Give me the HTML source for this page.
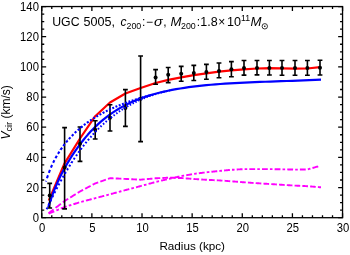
<!DOCTYPE html><html><head><meta charset="utf-8"><style>html,body{margin:0;padding:0;background:#fff;overflow:hidden}body{width:350px;height:255px;position:relative}</style></head><body><svg width="350" height="255" viewBox="0 0 350 255" style="position:absolute;left:0;top:0;will-change:transform">
<rect width="350" height="255" fill="#fff"/>
<g fill="none" stroke-linejoin="round">
<path d="M48.50,213.30 L48.70,213.15 L49.29,212.70 L49.87,212.25 L50.46,211.80 L51.05,211.35 L51.64,210.90 L52.23,210.45 L52.82,210.00 L53.41,209.55 L53.60,209.41 M55.59,207.89 L55.76,207.75 L56.35,207.30 L56.94,206.85 L57.53,206.40 L58.12,205.95 L58.71,205.50 L59.30,205.05 L59.89,204.60 L60.48,204.15 L60.87,203.85 M62.86,202.33 L63.03,202.20 L63.62,201.75 L64.21,201.30 L64.81,200.87 L65.44,200.48 L66.08,200.09 L66.71,199.70 L67.34,199.31 L67.98,198.92 L68.21,198.77 M70.25,197.51 L70.30,197.49 L70.93,197.10 L71.56,196.71 L72.19,196.32 L72.83,195.92 L73.46,195.53 L74.09,195.14 L74.73,194.75 L75.36,194.36 L75.65,194.18 M77.68,192.93 L77.89,192.80 L78.52,192.41 L79.16,192.02 L79.79,191.63 L80.44,191.27 L81.10,190.91 L81.76,190.56 L82.42,190.21 L83.08,189.86 L83.12,189.84 M85.18,188.74 L85.29,188.68 L85.95,188.33 L86.61,187.98 L87.27,187.63 L87.93,187.27 L88.59,186.92 L89.25,186.57 L89.91,186.22 L90.57,185.87 L90.64,185.83 M92.69,184.74 L92.78,184.69 L93.44,184.34 L94.10,183.99 L94.76,183.63 L95.43,183.32 L96.14,183.07 L96.84,182.82 L97.55,182.57 L98.21,182.34 M100.31,181.61 L100.37,181.58 L101.07,181.34 L101.78,181.09 L102.48,180.84 L103.19,180.59 L103.89,180.35 L104.60,180.10 L105.30,179.85 L105.87,179.65 M107.97,178.91 L108.12,178.86 L108.83,178.61 L109.53,178.37 L110.25,178.21 L110.99,178.25 L111.74,178.28 L112.48,178.31 L113.23,178.35 L113.59,178.36 M115.72,178.46 L115.96,178.47 L116.71,178.50 L117.45,178.54 L118.20,178.57 L118.94,178.61 L119.69,178.64 L120.43,178.67 L121.18,178.71 L121.37,178.72 M123.50,178.81 L123.66,178.82 L124.41,178.85 L125.15,178.89 L125.90,178.93 L126.65,178.97 L127.39,179.00 L128.14,179.04 L128.89,179.08 L129.14,179.10 M131.27,179.21 L131.38,179.21 L132.13,179.25 L132.88,179.29 L133.62,179.33 L134.37,179.37 L135.12,179.41 L135.87,179.45 L136.61,179.49 L136.92,179.51 M139.05,179.62 L139.10,179.62 L139.85,179.66 L140.60,179.70 L141.34,179.63 L142.08,179.56 L142.81,179.49 L143.55,179.42 L144.29,179.36 L144.70,179.32 M146.82,179.12 L146.99,179.10 L147.73,179.03 L148.47,178.97 L149.21,178.90 L149.94,178.83 L150.68,178.76 L151.42,178.69 L152.16,178.62 L152.47,178.59 M154.60,178.39 L154.62,178.39 L155.35,178.32 L156.09,178.28 L156.84,178.24 L157.58,178.21 L158.32,178.17 L159.06,178.14 L159.80,178.10 L160.24,178.08 M162.37,177.98 L162.52,177.97 L163.26,177.94 L164.00,177.90 L164.74,177.86 L165.48,177.83 L166.22,177.79 L166.96,177.76 L167.71,177.72 L168.02,177.71 M170.15,177.75 L170.16,177.75 L170.90,177.76 L171.63,177.78 L172.37,177.80 L173.11,177.81 L173.84,177.83 L174.58,177.85 L175.31,177.86 L175.80,177.88 M177.93,177.92 L178.01,177.93 L178.75,177.94 L179.48,177.96 L180.22,177.98 L180.95,177.99 L181.69,178.04 L182.44,178.10 L183.18,178.16 L183.58,178.19 M185.71,178.36 L185.89,178.37 L186.64,178.43 L187.38,178.49 L188.12,178.55 L188.86,178.61 L189.60,178.67 L190.34,178.73 L191.08,178.78 L191.35,178.81 M193.48,178.97 L193.55,178.98 L194.29,179.03 L195.04,179.08 L195.78,179.13 L196.52,179.17 L197.26,179.22 L198.00,179.27 L198.74,179.31 L199.13,179.34 M201.26,179.47 L201.46,179.49 L202.20,179.53 L202.94,179.58 L203.68,179.63 L204.42,179.67 L205.16,179.72 L205.91,179.77 L206.65,179.81 L206.90,179.82 M209.03,179.93 L209.12,179.93 L209.86,179.96 L210.60,180.00 L211.34,180.04 L212.08,180.07 L212.82,180.11 L213.56,180.14 L214.31,180.18 L214.68,180.19 M216.81,180.30 L217.02,180.31 L217.76,180.34 L218.51,180.38 L219.25,180.42 L219.99,180.47 L220.74,180.53 L221.48,180.58 L222.22,180.63 L222.46,180.65 M224.59,180.81 L224.70,180.81 L225.45,180.87 L226.19,180.92 L226.94,180.98 L227.68,181.03 L228.42,181.08 L229.17,181.14 L229.91,181.19 L230.23,181.22 M232.36,181.38 L232.39,181.38 L233.13,181.44 L233.87,181.50 L234.61,181.55 L235.35,181.61 L236.09,181.67 L236.84,181.73 L237.58,181.79 L238.01,181.82 M240.13,181.99 L240.29,182.01 L241.04,182.06 L241.78,182.12 L242.52,182.18 L243.26,182.24 L244.00,182.30 L244.74,182.35 L245.47,182.40 L245.78,182.42 M247.91,182.57 L247.92,182.57 L248.66,182.62 L249.40,182.67 L250.13,182.72 L250.87,182.78 L251.60,182.83 L252.34,182.88 L253.08,182.93 L253.56,182.96 M255.68,183.11 L255.77,183.12 L256.51,183.17 L257.25,183.22 L257.99,183.26 L258.74,183.31 L259.48,183.36 L260.22,183.41 L260.97,183.46 L261.33,183.48 M263.46,183.62 L263.70,183.63 L264.44,183.68 L265.18,183.73 L265.93,183.78 L266.67,183.82 L267.42,183.87 L268.16,183.92 L268.90,183.97 L269.11,183.98 M271.24,184.12 L271.38,184.13 L272.12,184.17 L272.86,184.22 L273.60,184.27 L274.34,184.31 L275.08,184.36 L275.82,184.41 L276.56,184.45 L276.88,184.48 M279.01,184.61 L279.04,184.61 L279.78,184.66 L280.52,184.71 L281.26,184.75 L282.00,184.80 L282.74,184.85 L283.47,184.89 L284.21,184.94 L284.66,184.96 M286.79,185.09 L286.91,185.10 L287.64,185.15 L288.38,185.19 L289.11,185.24 L289.85,185.28 L290.58,185.33 L291.32,185.37 L292.06,185.42 L292.44,185.44 M294.57,185.57 L294.75,185.58 L295.50,185.62 L296.24,185.66 L296.98,185.70 L297.73,185.73 L298.47,185.77 L299.22,185.80 L299.96,185.84 L300.21,185.85 M302.34,185.96 L302.44,185.96 L303.18,186.00 L303.93,186.03 L304.67,186.07 L305.42,186.10 L306.16,186.14 L306.90,186.18 L307.65,186.22 L307.99,186.25 M310.12,186.42 L310.12,186.42 L310.86,186.48 L311.60,186.54 L312.35,186.60 L313.09,186.66 L313.83,186.72 L314.57,186.78 L315.31,186.84 L315.76,186.88 M317.89,187.05 L318.03,187.06 L318.77,187.12 L319.52,187.18 L320.26,187.24 L321.00,187.30" stroke="#f0f" stroke-width="1.9"/>
<path d="M48.70,213.60 L48.93,213.50 L49.62,213.22 L50.31,212.93 L51.00,212.64 L51.70,212.36 L52.39,212.07 L53.08,211.78 L53.77,211.50 L54.29,211.28 M56.34,210.43 L56.53,210.35 L57.23,210.06 L57.92,209.77 L58.61,209.49 L58.89,209.37 M60.94,208.52 L61.14,208.43 L61.83,208.15 L62.53,207.86 L63.22,207.57 L63.91,207.29 L64.60,207.00 L65.31,206.78 L66.02,206.56 L66.68,206.35 M68.76,205.70 L68.86,205.67 L69.58,205.45 L70.29,205.23 L71.00,205.01 L71.32,204.90 M73.40,204.26 L73.60,204.19 L74.31,203.97 L75.02,203.75 L75.74,203.53 L76.45,203.31 L77.16,203.09 L77.87,202.86 L78.58,202.64 L79.17,202.46 M81.25,201.87 L81.45,201.82 L82.17,201.63 L82.90,201.44 L83.62,201.25 L83.83,201.19 M85.91,200.65 L86.03,200.61 L86.76,200.42 L87.48,200.23 L88.20,200.04 L88.93,199.85 L89.65,199.66 L90.37,199.47 L91.10,199.28 L91.70,199.12 M93.78,198.57 L93.99,198.52 L94.72,198.33 L95.44,198.14 L96.15,197.95 L96.36,197.89 M98.44,197.35 L98.54,197.32 L99.26,197.13 L99.97,196.94 L100.69,196.75 L101.41,196.56 L102.12,196.38 L102.84,196.19 L103.55,196.00 L104.23,195.82 M106.31,195.27 L106.42,195.24 L107.14,195.05 L107.85,194.87 L108.57,194.68 L108.89,194.59 M110.97,194.04 L111.20,193.97 L111.92,193.78 L112.65,193.58 L113.37,193.38 L114.09,193.18 L114.81,192.99 L115.53,192.79 L116.26,192.59 L116.76,192.46 M118.84,191.89 L118.90,191.87 L119.62,191.68 L120.35,191.48 L121.07,191.28 L121.41,191.19 M123.50,190.62 L123.72,190.56 L124.44,190.36 L125.16,190.17 L125.88,189.97 L126.61,189.78 L127.33,189.59 L128.05,189.40 L128.78,189.21 L129.28,189.08 M131.37,188.53 L131.43,188.51 L132.16,188.32 L132.88,188.13 L133.60,187.94 L133.94,187.85 M136.03,187.30 L136.26,187.24 L136.98,187.05 L137.70,186.86 L138.43,186.67 L139.15,186.48 L139.88,186.29 L140.60,186.10 L141.31,185.90 L141.82,185.77 M143.90,185.20 L143.93,185.19 L144.65,184.99 L145.36,184.80 L146.08,184.60 L146.47,184.49 M148.55,183.93 L148.70,183.89 L149.41,183.69 L150.12,183.50 L150.84,183.30 L151.55,183.11 L152.27,182.91 L152.98,182.72 L153.70,182.52 L154.34,182.34 M156.42,181.80 L156.57,181.77 L157.30,181.60 L158.02,181.42 L158.75,181.25 L159.00,181.19 M161.09,180.69 L161.17,180.67 L161.90,180.50 L162.63,180.33 L163.35,180.15 L164.08,179.98 L164.81,179.81 L165.53,179.63 L166.26,179.46 L166.89,179.31 M168.97,178.83 L169.16,178.79 L169.89,178.62 L170.61,178.46 L171.33,178.30 L171.56,178.25 M173.64,177.79 L173.74,177.76 L174.46,177.60 L175.18,177.44 L175.90,177.28 L176.63,177.12 L177.35,176.96 L178.07,176.80 L178.79,176.64 L179.45,176.49 M181.54,176.04 L181.68,176.02 L182.41,175.89 L183.14,175.76 L183.87,175.63 L184.13,175.59 M186.22,175.22 L186.29,175.21 L187.02,175.08 L187.74,174.96 L188.47,174.83 L189.20,174.70 L189.92,174.58 L190.65,174.45 L191.38,174.32 L192.04,174.21 M194.13,173.86 L194.29,173.84 L195.04,173.74 L195.78,173.65 L196.52,173.55 L196.72,173.53 M198.82,173.26 L198.99,173.24 L199.73,173.15 L200.47,173.05 L201.21,172.96 L201.95,172.86 L202.69,172.77 L203.44,172.68 L204.18,172.58 L204.65,172.52 M206.74,172.26 L206.89,172.25 L207.64,172.17 L208.38,172.10 L209.12,172.02 L209.34,172.00 M211.44,171.78 L211.59,171.76 L212.33,171.69 L213.07,171.61 L213.81,171.54 L214.55,171.46 L215.29,171.38 L216.04,171.31 L216.78,171.23 L217.27,171.18 M219.37,170.96 L219.50,170.95 L220.24,170.88 L220.98,170.81 L221.73,170.74 L221.96,170.71 M224.06,170.51 L224.21,170.50 L224.95,170.42 L225.70,170.35 L226.44,170.28 L227.18,170.21 L227.93,170.14 L228.67,170.06 L229.42,169.99 L229.90,169.95 M231.99,169.77 L232.14,169.76 L232.88,169.72 L233.62,169.68 L234.36,169.64 L234.59,169.62 M236.69,169.51 L236.84,169.50 L237.58,169.46 L238.32,169.42 L239.06,169.37 L239.80,169.33 L240.54,169.29 L241.28,169.25 L242.02,169.21 L242.53,169.18 M244.63,169.10 L244.75,169.10 L245.50,169.10 L246.25,169.10 L247.00,169.10 L247.23,169.10 M249.33,169.10 L249.50,169.10 L250.25,169.10 L251.00,169.10 L251.75,169.10 L252.50,169.10 L253.25,169.10 L254.00,169.10 L254.75,169.10 L255.17,169.10 M257.27,169.10 L257.50,169.10 L258.24,169.10 L258.98,169.10 L259.73,169.10 L259.87,169.10 M261.97,169.10 L262.21,169.10 L262.95,169.10 L263.70,169.10 L264.44,169.10 L265.18,169.10 L265.93,169.10 L266.67,169.10 L267.42,169.10 L267.81,169.10 M269.91,169.11 L270.14,169.11 L270.88,169.12 L271.62,169.14 L272.36,169.15 L272.51,169.15 M274.61,169.18 L274.84,169.19 L275.58,169.20 L276.32,169.21 L277.06,169.22 L277.80,169.23 L278.54,169.25 L279.28,169.26 L280.02,169.27 L280.45,169.28 M282.55,169.31 L282.74,169.32 L283.47,169.33 L284.21,169.35 L284.94,169.37 L285.15,169.37 M287.25,169.42 L287.40,169.42 L288.13,169.44 L288.87,169.46 L289.60,169.48 L290.34,169.49 L291.08,169.51 L291.81,169.53 L292.55,169.54 L293.09,169.56 M295.19,169.60 L295.25,169.60 L295.99,169.59 L296.74,169.59 L297.48,169.58 L297.79,169.58 M299.89,169.56 L299.96,169.56 L300.70,169.55 L301.45,169.55 L302.19,169.54 L302.94,169.54 L303.68,169.53 L304.42,169.52 L305.17,169.52 L305.73,169.51 M307.82,169.38 L307.88,169.36 L308.59,169.16 L309.30,168.95 L310.01,168.74 L310.40,168.63 M312.47,168.03 L312.62,167.99 L313.34,167.78 L314.05,167.57 L314.76,167.37 L315.48,167.16 L316.19,166.96 L316.90,166.75 L317.61,166.54 L318.25,166.36" stroke="#f0f" stroke-width="1.9"/>
<path d="M48.80,200.60 L49.70,198.50 L64.60,163.30 L80.00,138.50 L95.20,116.20 L110.00,102.50 L125.40,93.50 L140.60,88.00 L155.60,83.00 L168.20,79.90 L181.20,77.30 L193.80,75.10 L206.40,73.40 L219.00,71.70 L231.40,70.40 L244.00,69.40 L257.00,68.50 L269.40,68.20 L282.00,68.40 L295.00,68.60 L307.40,68.50 L320.00,67.20" stroke="#f00" stroke-width="2.2"/>
<path d="M48.30,207.22 L49.34,203.83 L50.45,200.45 L51.62,197.09 L52.84,193.75 L54.13,190.42 L55.49,187.11 L56.90,183.82 L58.38,180.55 L59.91,177.30 L61.51,174.07 L63.17,170.87 L64.90,167.68 L66.68,164.52 L68.53,161.39 L70.44,158.28 L72.40,155.19 L74.44,152.14 L76.53,149.11 L78.68,146.12 L80.90,143.17 L83.18,140.26 L85.52,137.40 L87.92,134.60 L90.39,131.86 L92.91,129.20 L95.50,126.60 L98.15,124.09 L100.86,121.66 L103.63,119.31 L106.47,117.05 L109.36,114.88 L112.32,112.81 L115.34,110.83 L118.42,108.94 L121.56,107.14 L124.77,105.43 L128.04,103.80 L131.36,102.25 L134.75,100.78 L138.21,99.39 L141.72,98.07 L145.29,96.82 L148.93,95.65 L152.63,94.54 L156.39,93.49 L160.21,92.51 L164.10,91.59 L168.04,90.73 L172.05,89.92 L176.12,89.16 L180.25,88.46 L184.45,87.80 L188.70,87.19 L193.02,86.63 L197.39,86.10 L201.83,85.62 L206.34,85.17 L210.90,84.75 L215.53,84.37 L220.21,84.01 L224.96,83.68 L229.77,83.38 L234.64,83.10 L239.58,82.83 L244.57,82.59 L249.63,82.36 L254.75,82.14 L259.93,81.94 L265.17,81.74 L270.48,81.55 L275.85,81.36 L281.27,81.17 L286.76,80.98 L292.32,80.78 L297.93,80.58 L303.60,80.37 L309.34,80.15 L315.14,79.91 L321.00,79.66" stroke="#00f" stroke-width="2.2"/>
</g>
<g stroke="#000" stroke-width="1.6" fill="none">
<path d="M49.70,183.40 V208.00 M47.30,183.40 h4.8 M47.30,208.00 h4.8"/>
<path d="M64.60,127.60 V208.90 M62.20,127.60 h4.8 M62.20,208.90 h4.8"/>
<path d="M80.00,127.00 V161.40 M77.60,127.00 h4.8 M77.60,161.40 h4.8"/>
<path d="M95.20,120.80 V139.00 M92.80,120.80 h4.8 M92.80,139.00 h4.8"/>
<path d="M110.00,104.70 V131.00 M107.60,104.70 h4.8 M107.60,131.00 h4.8"/>
<path d="M125.40,89.60 V126.40 M123.00,89.60 h4.8 M123.00,126.40 h4.8"/>
<path d="M140.60,56.00 V141.60 M138.20,56.00 h4.8 M138.20,141.60 h4.8"/>
<path d="M155.60,69.60 V84.20 M153.20,69.60 h4.8 M153.20,84.20 h4.8"/>
<path d="M168.20,67.50 V82.60 M165.80,67.50 h4.8 M165.80,82.60 h4.8"/>
<path d="M181.20,66.40 V81.20 M178.80,66.40 h4.8 M178.80,81.20 h4.8"/>
<path d="M193.80,65.40 V80.50 M191.40,65.40 h4.8 M191.40,80.50 h4.8"/>
<path d="M206.40,64.40 V79.20 M204.00,64.40 h4.8 M204.00,79.20 h4.8"/>
<path d="M219.00,63.00 V77.80 M216.60,63.00 h4.8 M216.60,77.80 h4.8"/>
<path d="M231.40,61.60 V76.70 M229.00,61.60 h4.8 M229.00,76.70 h4.8"/>
<path d="M244.00,60.50 V75.10 M241.60,60.50 h4.8 M241.60,75.10 h4.8"/>
<path d="M257.00,60.50 V74.90 M254.60,60.50 h4.8 M254.60,74.90 h4.8"/>
<path d="M269.40,60.50 V75.00 M267.00,60.50 h4.8 M267.00,75.00 h4.8"/>
<path d="M282.00,60.50 V75.20 M279.60,60.50 h4.8 M279.60,75.20 h4.8"/>
<path d="M295.00,60.50 V75.30 M292.60,60.50 h4.8 M292.60,75.30 h4.8"/>
<path d="M307.40,60.50 V75.30 M305.00,60.50 h4.8 M305.00,75.30 h4.8"/>
<path d="M320.00,60.20 V75.00 M317.60,60.20 h4.8 M317.60,75.00 h4.8"/>
</g>
<g fill="#000">
<circle cx="49.70" cy="195.60" r="2"/>
<circle cx="64.60" cy="167.60" r="2"/>
<circle cx="80.00" cy="143.80" r="2"/>
<circle cx="95.20" cy="129.80" r="2"/>
<circle cx="110.00" cy="117.80" r="2"/>
<circle cx="125.40" cy="108.00" r="2"/>
<circle cx="140.60" cy="98.80" r="2"/>
<circle cx="155.60" cy="77.50" r="2"/>
<circle cx="168.20" cy="74.80" r="2"/>
<circle cx="181.20" cy="73.70" r="2"/>
<circle cx="193.80" cy="72.90" r="2"/>
<circle cx="206.40" cy="72.00" r="2"/>
<circle cx="219.00" cy="70.90" r="2"/>
<circle cx="231.40" cy="69.30" r="2"/>
<circle cx="244.00" cy="67.90" r="2"/>
<circle cx="257.00" cy="68.00" r="2"/>
<circle cx="269.40" cy="68.00" r="2"/>
<circle cx="282.00" cy="68.00" r="2"/>
<circle cx="295.00" cy="68.00" r="2"/>
<circle cx="307.40" cy="68.00" r="2"/>
<circle cx="320.00" cy="67.70" r="2"/>
</g>
<g fill="none">
<path d="M46.60,209.30 L46.70,209.09 L46.98,208.48 L47.27,207.87 L47.38,207.63 M48.45,205.37 L48.48,205.30 L48.78,204.67 L49.08,204.04 L49.34,203.49 M50.41,201.25 L50.51,201.04 L50.82,200.39 L51.13,199.76 L51.32,199.38 M52.40,197.16 L52.47,197.02 L52.79,196.36 L53.11,195.71 L53.31,195.31 M54.41,193.12 L54.47,193.00 L54.78,192.37 L55.11,191.73 L55.34,191.29 M56.45,189.13 L56.54,188.94 L56.89,188.28 L57.23,187.62 L57.38,187.33 M58.51,185.19 L58.56,185.10 L58.89,184.47 L59.23,183.84 L59.46,183.42 M60.60,181.31 L60.60,181.30 L60.96,180.65 L61.32,180.01 L61.56,179.57 M62.71,177.50 L62.74,177.45 L63.09,176.84 L63.44,176.23 L63.69,175.78 M64.86,173.75 L64.97,173.55 L65.33,172.93 L65.69,172.31 L65.85,172.06 M67.03,170.06 L67.06,170.03 L67.43,169.40 L67.80,168.77 L68.03,168.40 M69.24,166.45 L69.35,166.26 L69.74,165.63 L70.14,165.00 L70.25,164.82 M71.47,162.90 L71.47,162.89 L71.86,162.27 L72.25,161.68 L72.49,161.31 M73.73,159.42 L73.80,159.31 L74.20,158.72 L74.60,158.13 L74.77,157.87 M76.01,156.03 L76.06,155.95 L76.48,155.36 L76.89,154.77 L77.07,154.51 M78.33,152.71 L78.40,152.61 L78.83,152.03 L79.25,151.44 L79.40,151.23 M80.68,149.48 L80.82,149.29 L81.25,148.71 L81.69,148.13 L81.76,148.03 M83.05,146.32 L83.15,146.20 L83.60,145.62 L84.05,145.05 L84.15,144.92 M85.46,143.26 L85.55,143.14 L86.01,142.57 L86.47,142.00 L86.56,141.89 M87.89,140.28 L88.02,140.12 L88.49,139.57 L88.96,139.01 L89.00,138.96 M90.34,137.39 L90.39,137.34 L90.87,136.79 L91.35,136.25 L91.47,136.11 M92.83,134.59 L92.98,134.43 L93.47,133.90 L93.97,133.36 M95.33,131.89 L95.46,131.76 L95.97,131.24 L96.48,130.72 L96.49,130.71 M97.87,129.29 L98.01,129.15 L98.53,128.64 L99.04,128.14 M100.43,126.79 L100.44,126.78 L100.96,126.27 L101.50,125.78 L101.61,125.68 M103.01,124.37 L103.10,124.30 L103.63,123.80 L104.18,123.32 L104.20,123.30 M105.62,122.05 L105.63,122.04 L106.17,121.56 L106.72,121.08 L106.81,121.01 M108.24,119.82 L108.40,119.69 L108.95,119.22 L109.44,118.82 M110.88,117.67 L111.03,117.55 L111.60,117.10 L112.09,116.72 M113.54,115.61 L113.71,115.48 L114.30,115.05 L114.75,114.70 M116.21,113.64 L116.25,113.61 L116.84,113.19 L117.43,112.77 M118.90,111.74 L119.02,111.66 L119.63,111.26 L120.13,110.92 M121.60,109.94 L121.65,109.91 L122.26,109.51 L122.84,109.15 M124.32,108.23 L124.32,108.22 L124.94,107.84 L125.56,107.46 M127.05,106.58 L127.24,106.47 L127.87,106.10 L128.29,105.85 M129.79,105.02 L130.00,104.90 L130.64,104.55 L131.04,104.33 M132.54,103.52 L132.58,103.50 L133.24,103.17 L133.80,102.88 M135.30,102.11 L135.42,102.05 L136.08,101.73 L136.56,101.50 M138.07,100.78 L138.08,100.77 L138.75,100.46 L139.34,100.18 M140.85,99.52 L141.01,99.45 L141.69,99.15 L142.12,98.96 M143.64,98.32 L143.74,98.28 L144.43,98.00 L144.91,97.81 M146.43,97.19 L146.51,97.16 L147.17,96.92 L147.71,96.72 M149.23,96.15 L149.38,96.10 L150.04,95.85 L150.51,95.69 M152.04,95.17 L152.06,95.17 L152.73,94.94 L153.32,94.74 M154.85,94.25 L154.99,94.21 L155.68,94.00 L156.14,93.86 M157.67,93.39 L157.73,93.37 L158.43,93.18 L158.96,93.03 M160.49,92.62 L160.52,92.61 L161.21,92.42 L161.78,92.27 M163.32,91.89 L163.33,91.89 L164.03,91.72 L164.61,91.59 M166.15,91.22 L166.16,91.22 L166.88,91.07 L167.44,90.95 M168.98,90.63 L169.04,90.62 L169.28,90.57 L169.52,90.52 L169.76,90.47 L170.00,90.42" stroke="#00f" stroke-width="2.0"/>
<path d="M46.00,181.47 L46.07,181.24 L46.14,181.01 L46.20,180.82 M46.98,178.26 L47.05,178.04 L47.27,177.36 L47.49,176.68 L47.72,176.00 L47.95,175.33 L47.98,175.26 M48.85,172.82 L48.90,172.68 L49.15,172.03 L49.40,171.37 L49.65,170.72 L49.91,170.07 L49.95,169.97 M50.90,167.66 L50.97,167.51 L51.24,166.88 L51.52,166.25 L51.79,165.62 L52.10,164.96 M53.12,162.78 L53.16,162.70 L53.49,162.03 L53.82,161.37 L54.15,160.70 L54.40,160.24 M55.49,158.18 L55.53,158.10 L55.89,157.46 L56.25,156.82 L56.61,156.18 L56.84,155.79 M57.98,153.86 L58.10,153.67 L58.49,153.05 L58.87,152.44 L59.26,151.82 L59.39,151.62 M60.59,149.81 L60.59,149.80 L61.00,149.20 L61.41,148.61 L61.83,148.02 L62.05,147.71 M63.29,146.01 L63.39,145.87 L63.82,145.29 L64.26,144.71 L64.71,144.14 L64.79,144.04 M66.06,142.44 L66.21,142.26 L66.67,141.70 L67.13,141.15 L67.60,140.59 L67.61,140.59 M68.91,139.09 L69.03,138.96 L69.51,138.42 L70.00,137.88 L70.48,137.36 M71.81,135.96 L71.83,135.94 L72.33,135.42 L72.84,134.90 L73.36,134.38 L73.41,134.33 M74.76,133.00 L74.92,132.85 L75.46,132.35 L75.99,131.85 L76.39,131.48 M77.76,130.24 L77.81,130.20 L78.36,129.71 L78.91,129.22 L79.41,128.80 M80.79,127.63 L80.79,127.62 L81.37,127.15 L81.95,126.68 L82.46,126.27 M83.85,125.18 L83.90,125.14 L84.50,124.68 L85.09,124.22 L85.53,123.89 M86.94,122.86 L86.95,122.85 L87.51,122.45 L88.08,122.04 L88.64,121.65 M90.05,120.67 L90.19,120.58 L90.77,120.19 L91.36,119.80 L91.76,119.53 M93.19,118.61 L93.34,118.51 L93.93,118.13 L94.54,117.75 L94.91,117.53 M96.34,116.65 L96.37,116.63 L96.99,116.26 L97.61,115.90 L98.07,115.63 M99.51,114.80 L99.70,114.69 L100.34,114.33 L100.98,113.98 L101.24,113.83 M102.69,113.05 L102.70,113.04 L103.35,112.70 L104.00,112.35 L104.43,112.12 M105.88,111.39 L105.99,111.33 L106.65,111.00 L107.31,110.67 L107.63,110.51 M109.09,109.81 L109.19,109.76 L109.81,109.46 L110.45,109.16 L110.84,108.98 M112.30,108.30 L112.37,108.27 L113.02,107.98 L113.67,107.70 L114.06,107.52 M115.52,106.88 L115.62,106.84 L116.29,106.56 L116.95,106.28 L117.28,106.14 M118.75,105.53 L118.96,105.44 L119.63,105.17 L120.31,104.90 L120.52,104.82 M121.99,104.24 L122.13,104.19 L122.82,103.92 L123.50,103.66 L123.76,103.56 M125.23,103.01 L125.36,102.96 L126.06,102.71 L126.76,102.45 L127.00,102.36 M128.48,101.84 L128.56,101.82 L129.22,101.58 L129.88,101.35 L130.25,101.22 M131.73,100.73 L131.89,100.67 L132.57,100.45 L133.24,100.22 L133.51,100.14 M134.99,99.66 L135.07,99.64 L135.75,99.42 L136.44,99.20 L136.77,99.10 M138.25,98.65 L138.29,98.64 L138.99,98.43 L139.69,98.22 L140.03,98.11 M141.51,97.68 L141.57,97.67 L142.28,97.46 L142.99,97.26 L143.30,97.17 M144.78,96.76 L144.91,96.73 L145.63,96.53 L146.35,96.33 L146.56,96.27 M148.05,95.88 L148.18,95.85 L148.86,95.67 L149.54,95.49 L149.84,95.41" stroke="#00f" stroke-width="2.1"/>
</g>
<rect x="41.75" y="6.55" width="300.80" height="211.15" fill="none" stroke="#000" stroke-width="1.3"/>
<path d="M41.75,217.70 v-4.40 M41.75,6.55 v4.40 M51.78,217.70 v-2.50 M51.78,6.55 v2.50 M61.80,217.70 v-2.50 M61.80,6.55 v2.50 M71.83,217.70 v-2.50 M71.83,6.55 v2.50 M81.86,217.70 v-2.50 M81.86,6.55 v2.50 M91.88,217.70 v-4.40 M91.88,6.55 v4.40 M101.91,217.70 v-2.50 M101.91,6.55 v2.50 M111.94,217.70 v-2.50 M111.94,6.55 v2.50 M121.96,217.70 v-2.50 M121.96,6.55 v2.50 M131.99,217.70 v-2.50 M131.99,6.55 v2.50 M142.02,217.70 v-4.40 M142.02,6.55 v4.40 M152.04,217.70 v-2.50 M152.04,6.55 v2.50 M162.07,217.70 v-2.50 M162.07,6.55 v2.50 M172.10,217.70 v-2.50 M172.10,6.55 v2.50 M182.12,217.70 v-2.50 M182.12,6.55 v2.50 M192.15,217.70 v-4.40 M192.15,6.55 v4.40 M202.18,217.70 v-2.50 M202.18,6.55 v2.50 M212.20,217.70 v-2.50 M212.20,6.55 v2.50 M222.23,217.70 v-2.50 M222.23,6.55 v2.50 M232.26,217.70 v-2.50 M232.26,6.55 v2.50 M242.28,217.70 v-4.40 M242.28,6.55 v4.40 M252.31,217.70 v-2.50 M252.31,6.55 v2.50 M262.34,217.70 v-2.50 M262.34,6.55 v2.50 M272.36,217.70 v-2.50 M272.36,6.55 v2.50 M282.39,217.70 v-2.50 M282.39,6.55 v2.50 M292.42,217.70 v-4.40 M292.42,6.55 v4.40 M302.44,217.70 v-2.50 M302.44,6.55 v2.50 M312.47,217.70 v-2.50 M312.47,6.55 v2.50 M322.50,217.70 v-2.50 M322.50,6.55 v2.50 M332.52,217.70 v-2.50 M332.52,6.55 v2.50 M342.55,217.70 v-4.40 M342.55,6.55 v4.40 M41.75,217.70 h4.40 M342.55,217.70 h-4.40 M41.75,210.16 h2.50 M342.55,210.16 h-2.50 M41.75,202.62 h2.50 M342.55,202.62 h-2.50 M41.75,195.08 h2.50 M342.55,195.08 h-2.50 M41.75,187.54 h4.40 M342.55,187.54 h-4.40 M41.75,179.99 h2.50 M342.55,179.99 h-2.50 M41.75,172.45 h2.50 M342.55,172.45 h-2.50 M41.75,164.91 h2.50 M342.55,164.91 h-2.50 M41.75,157.37 h4.40 M342.55,157.37 h-4.40 M41.75,149.83 h2.50 M342.55,149.83 h-2.50 M41.75,142.29 h2.50 M342.55,142.29 h-2.50 M41.75,134.75 h2.50 M342.55,134.75 h-2.50 M41.75,127.21 h4.40 M342.55,127.21 h-4.40 M41.75,119.67 h2.50 M342.55,119.67 h-2.50 M41.75,112.12 h2.50 M342.55,112.12 h-2.50 M41.75,104.58 h2.50 M342.55,104.58 h-2.50 M41.75,97.04 h4.40 M342.55,97.04 h-4.40 M41.75,89.50 h2.50 M342.55,89.50 h-2.50 M41.75,81.96 h2.50 M342.55,81.96 h-2.50 M41.75,74.42 h2.50 M342.55,74.42 h-2.50 M41.75,66.88 h4.40 M342.55,66.88 h-4.40 M41.75,59.34 h2.50 M342.55,59.34 h-2.50 M41.75,51.80 h2.50 M342.55,51.80 h-2.50 M41.75,44.26 h2.50 M342.55,44.26 h-2.50 M41.75,36.71 h4.40 M342.55,36.71 h-4.40 M41.75,29.17 h2.50 M342.55,29.17 h-2.50 M41.75,21.63 h2.50 M342.55,21.63 h-2.50 M41.75,14.09 h2.50 M342.55,14.09 h-2.50 M41.75,6.55 h4.40 M342.55,6.55 h-4.40" stroke="#000" stroke-width="1.3" fill="none"/>
<g font-family="Liberation Sans, sans-serif" font-size="12" fill="#000">
<text transform="translate(42.15,232.1) scale(0.94,1)" text-anchor="middle">0</text>
<text transform="translate(92.28,232.1) scale(0.94,1)" text-anchor="middle">5</text>
<text transform="translate(142.42,232.1) scale(0.94,1)" text-anchor="middle">10</text>
<text transform="translate(192.55,232.1) scale(0.94,1)" text-anchor="middle">15</text>
<text transform="translate(242.68,232.1) scale(0.94,1)" text-anchor="middle">20</text>
<text transform="translate(292.82,232.1) scale(0.94,1)" text-anchor="middle">25</text>
<text transform="translate(342.95,232.1) scale(0.94,1)" text-anchor="middle">30</text>
<text transform="translate(38.9,221.90) scale(0.94,1)" text-anchor="end">0</text>
<text transform="translate(38.9,191.74) scale(0.94,1)" text-anchor="end">20</text>
<text transform="translate(38.9,161.57) scale(0.94,1)" text-anchor="end">40</text>
<text transform="translate(38.9,131.41) scale(0.94,1)" text-anchor="end">60</text>
<text transform="translate(38.9,101.24) scale(0.94,1)" text-anchor="end">80</text>
<text transform="translate(38.9,71.08) scale(0.94,1)" text-anchor="end">100</text>
<text transform="translate(38.9,40.91) scale(0.94,1)" text-anchor="end">120</text>
<text transform="translate(38.9,10.75) scale(0.94,1)" text-anchor="end">140</text>
</g>
<g font-family="Liberation Sans, sans-serif" font-size="12" fill="#000">
<text x="192.2" y="250.2" text-anchor="middle" font-size="11.7">Radius (kpc)</text>
<text transform="translate(10.3,112.4) rotate(-90)" text-anchor="middle"><tspan font-style="italic">V</tspan><tspan font-size="9.2" dy="2">cir</tspan><tspan dy="-2"> (km/s)</tspan></text>
<text transform="translate(52.20,26.10) scale(1.025,1)" font-size="12">UGC</text>
<text transform="translate(83.60,26.10) scale(1.05,1)" font-size="12">5005,</text>
<text transform="translate(120.50,26.10) scale(1,1)" font-size="12" font-style="italic">c</text>
<text transform="translate(126.50,28.70) scale(0.95,1)" font-size="9.3">200</text>
<text transform="translate(142.00,26.10) scale(1,1)" font-size="12">:</text>
<text transform="translate(146.00,26.10) scale(1,1)" font-size="12">−</text>
<text transform="translate(154.00,26.10) scale(1.2,1)" font-size="12" font-style="italic">σ</text>
<text transform="translate(163.30,26.10) scale(1,1)" font-size="12">,</text>
<text transform="translate(170.50,26.10) scale(1.1,1)" font-size="12" font-style="italic">M</text>
<text transform="translate(181.00,28.70) scale(0.95,1)" font-size="9.3">200</text>
<text transform="translate(196.80,26.10) scale(1,1)" font-size="12">:</text>
<text transform="translate(200.30,26.10) scale(1.04,1)" font-size="12">1.8</text>
<text transform="translate(218.30,26.10) scale(1,1)" font-size="12">×</text>
<text transform="translate(227.00,26.10) scale(1.05,1)" font-size="12">10</text>
<text transform="translate(241.10,21.40) scale(0.95,1)" font-size="9.2">11</text>
<text transform="translate(250.50,26.10) scale(1.1,1)" font-size="12" font-style="italic">M</text>
<circle cx="264.8" cy="26.3" r="2.7" fill="none" stroke="#000" stroke-width="0.8"/><circle cx="264.8" cy="26.3" r="0.8" fill="#000"/>
</g>
</svg></body></html>
